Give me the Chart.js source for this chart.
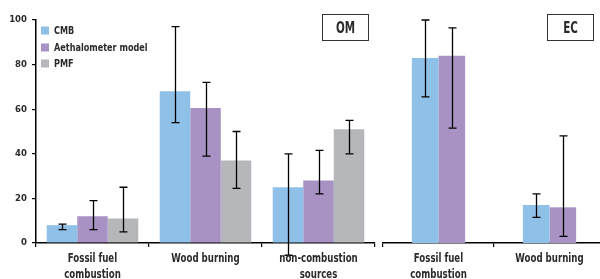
<!DOCTYPE html>
<html><head><meta charset="utf-8">
<script src="https://cdn.jsdelivr.net/npm/chart.js@4/dist/chart.umd.min.js"></script>
<style>
html,body{margin:0;padding:0;background:#fff;overflow:hidden;width:600px;height:279px;}
#w1{position:absolute;left:0;top:0;width:380px;height:279px;}
#w2{position:absolute;left:380px;top:0;width:225px;height:279px;}
</style></head>
<body>
<div id="w1"><canvas id="c1"></canvas></div>
<div id="w2"><canvas id="c2"></canvas></div>
<script>
const omCategories = [["Fossil fuel","combustion"],["Wood burning"],["non-combustion","sources"]];
const ecCategories = [["Fossil fuel","combustion"],["Wood burning"]];
const seriesNames = ["CMB","Aethalometer model","PMF"];
const omCMB = [8, 68, 25];
const omCMBLow = [6, 54, -5.5];
const omCMBHigh = [8.5, 97, 40];
const omAeth = [12, 60.5, 28];
const omAethLow = [6, 39, 22];
const omAethHigh = [19, 72, 41.5];
const omPMF = [11, 37, 51];
const omPMFLow = [5, 24.5, 40];
const omPMFHigh = [25, 50, 55];
const ecCMB = [83, 17];
const ecCMBLow = [65.5, 11.5];
const ecCMBHigh = [100, 22];
const ecAeth = [84, 16];
const ecAethLow = [51.5, 3];
const ecAethHigh = [96.5, 48];
const yTicks = [0, 20, 40, 60, 80, 100];

const colors = ['#8fc0e8', '#a892c4', '#b5b7ba'];
const FONT = '"DejaVu Sans Condensed", "Liberation Sans Narrow", sans-serif';
const TXT = '#2a2a2a';

function narrowText(ctx, text, x, y, sx) {
  ctx.save();
  ctx.translate(x, y);
  ctx.scale(sx, 1);
  ctx.fillText(text, 0, 0);
  ctx.restore();
}

const errorBars = {
  id: 'errorBars',
  afterDatasetsDraw(chart) {
    const ctx = chart.ctx, y = chart.scales.y;
    ctx.save();
    ctx.strokeStyle = '#000';
    ctx.lineWidth = 1.3;
    chart.data.datasets.forEach((ds, i) => {
      const meta = chart.getDatasetMeta(i);
      meta.data.forEach((bar, j) => {
        const x = Math.round(bar.x) + 0.5;
        const yl = y.getPixelForValue(ds.low[j]);
        const yh = y.getPixelForValue(ds.high[j]);
        ctx.beginPath();
        ctx.moveTo(x, yl); ctx.lineTo(x, yh);
        ctx.moveTo(x - 4, yl); ctx.lineTo(x + 4, yl);
        ctx.moveTo(x - 4, yh); ctx.lineTo(x + 4, yh);
        ctx.stroke();
      });
    });
    ctx.restore();
  }
};

const xLabels = {
  id: 'xLabels',
  afterDraw(chart) {
    const ctx = chart.ctx, xs = chart.scales.x;
    ctx.save();
    ctx.fillStyle = TXT;
    ctx.font = 'bold 12px ' + FONT;
    ctx.textAlign = 'center';
    ctx.textBaseline = 'middle';
    chart.data.labels.forEach((lab, i) => {
      const cx = xs.getPixelForTick(i);
      lab.forEach((line, k) => narrowText(ctx, line, cx, 258.5 + k * 16, 0.8));
    });
    ctx.restore();
  }
};

const boxLabel = {
  id: 'boxLabel',
  afterDraw(chart, args, opts) {
    const ctx = chart.ctx;
    ctx.save();
    ctx.strokeStyle = '#333';
    ctx.lineWidth = 1;
    ctx.strokeRect(opts.x + 0.5, opts.y + 0.5, opts.w, opts.h);
    ctx.fillStyle = TXT;
    ctx.font = 'bold 16px ' + FONT;
    ctx.textAlign = 'center';
    ctx.textBaseline = 'middle';
    narrowText(ctx, opts.text, opts.x + opts.w / 2 + 0.5, opts.y + opts.h / 2 + 1.5, 0.72);
    ctx.restore();
  }
};

const insideLegend = {
  id: 'insideLegend',
  afterDraw(chart, args, opts) {
    if (!opts.show) return;
    const ctx = chart.ctx;
    ctx.save();
    ctx.font = 'bold 11px ' + FONT;
    ctx.textBaseline = 'middle';
    ctx.textAlign = 'left';
    const rows = [30.5, 47.5, 63.5];
    seriesNames.forEach((n, i) => {
      ctx.fillStyle = colors[i];
      ctx.fillRect(41, rows[i] - 4, 8, 8);
      ctx.fillStyle = TXT;
      narrowText(ctx, n, 54, rows[i] + 0.5, 0.82);
    });
    ctx.restore();
  }
};

function mkDs(label, data, low, high, color) {
  return { label, data, low, high, backgroundColor: color, borderWidth: 0 };
}

function scales(showY) {
  const y = {
    display: showY,
    min: 0, max: 100,
    afterBuildTicks: s => { s.ticks = yTicks.map(v => ({ value: v })); },
    grid: { display: true, drawOnChartArea: false, tickLength: 4, color: '#000', lineWidth: 1.2 },
    border: { display: true, color: '#000', width: 1.5 },
    ticks: { color: TXT, font: { family: FONT, size: 9.5, weight: 'bold' }, padding: 5 }
  };
  if (showY) y.afterFit = s => { s.width = 36; };
  return {
    x: {
      offset: true,
      grid: { display: true, drawOnChartArea: false, offset: true, tickLength: 4, color: '#000', lineWidth: 1.2 },
      border: { display: true, color: '#000', width: 1.5 },
      ticks: { display: false },
      afterFit: s => { s.height = 36; }
    },
    y
  };
}

new Chart(document.getElementById('c1'), {
  type: 'bar',
  data: {
    labels: omCategories,
    datasets: [
      mkDs(seriesNames[0], omCMB, omCMBLow, omCMBHigh, colors[0]),
      mkDs(seriesNames[1], omAeth, omAethLow, omAethHigh, colors[1]),
      mkDs(seriesNames[2], omPMF, omPMFLow, omPMFHigh, colors[2])
    ]
  },
  options: {
    responsive: true, maintainAspectRatio: false, animation: false,
    layout: { padding: { top: 20, right: 5, left: 0, bottom: 0 } },
    datasets: { bar: { categoryPercentage: 0.81, barPercentage: 1 } },
    plugins: {
      legend: { display: false }, tooltip: { enabled: false },
      boxLabel: { x: 322, y: 14, w: 46, h: 26, text: 'OM' },
      insideLegend: { show: true }
    },
    scales: scales(true)
  },
  plugins: [errorBars, xLabels, boxLabel, insideLegend]
});

new Chart(document.getElementById('c2'), {
  type: 'bar',
  data: {
    labels: ecCategories,
    datasets: [
      mkDs(seriesNames[0], ecCMB, ecCMBLow, ecCMBHigh, colors[0]),
      mkDs(seriesNames[1], ecAeth, ecAethLow, ecAethHigh, colors[1])
    ]
  },
  options: {
    responsive: true, maintainAspectRatio: false, animation: false,
    layout: { padding: { top: 20, right: 0, left: 3, bottom: 0 } },
    datasets: { bar: { categoryPercentage: 0.48, barPercentage: 1 } },
    plugins: {
      legend: { display: false }, tooltip: { enabled: false },
      boxLabel: { x: 167, y: 14, w: 46, h: 26, text: 'EC' },
      insideLegend: { show: false }
    },
    scales: scales(false)
  },
  plugins: [errorBars, xLabels, boxLabel, insideLegend]
});
</script>
</body></html>
